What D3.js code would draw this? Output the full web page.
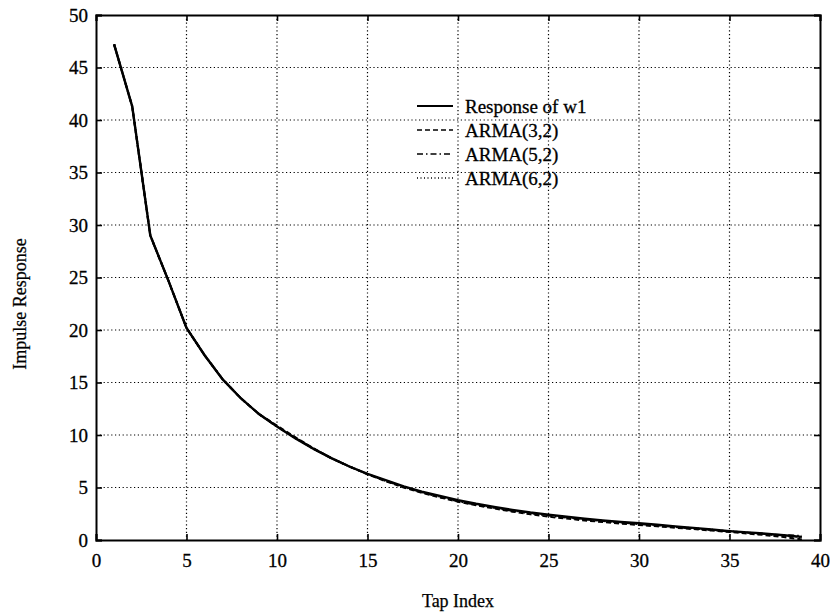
<!DOCTYPE html>
<html><head><meta charset="utf-8">
<script src="https://cdn.jsdelivr.net/npm/d3@7"></script>
<style>body{margin:0;background:#fff}svg{display:block}</style>
</head><body><svg id="c" width="830" height="616"></svg>
<script>
const taps = d3.range(1, 40);
const responseW1 = [47.2,41.3,29.0,24.7,20.2,17.6,15.3,13.5,12.0,10.8,9.7,8.7,7.8,7.0,6.3,5.7,5.1,4.6,4.2,3.8,3.45,3.15,2.87,2.62,2.42,2.22,2.03,1.87,1.72,1.6,1.45,1.3,1.15,1.0,0.85,0.73,0.6,0.45,0.3];
const arma32 = [47.2,41.3,29.0,24.7,20.2,17.6,15.3,13.5,12.0,10.9,9.8,8.75,7.8,7.0,6.25,5.6,5.0,4.5,4.05,3.65,3.3,3.0,2.7,2.45,2.22,2.04,1.86,1.71,1.56,1.42,1.3,1.17,1.04,0.9,0.76,0.62,0.46,0.28,0.05];
const arma52 = [47.2,41.3,29.0,24.7,20.2,17.6,15.3,13.5,12.0,10.8,9.75,8.7,7.8,7.0,6.28,5.65,5.05,4.55,4.1,3.7,3.36,3.06,2.78,2.54,2.33,2.14,1.96,1.8,1.65,1.52,1.38,1.24,1.1,0.96,0.82,0.69,0.56,0.46,0.4];
const arma62 = [47.2,41.3,29.0,24.7,20.2,17.6,15.3,13.5,12.0,10.8,9.7,8.7,7.8,7.0,6.27,5.64,5.05,4.55,4.12,3.72,3.38,3.08,2.8,2.56,2.35,2.16,1.98,1.82,1.67,1.54,1.4,1.26,1.12,0.98,0.84,0.7,0.56,0.4,0.2];
const seriesNames = ["Response of w1","ARMA(3,2)","ARMA(5,2)","ARMA(6,2)"];
const seriesDash = [null,"5,3","6,3,1.5,3","1,2.5"];
const xTicks = [0,5,10,15,20,25,30,35,40];
const yTicks = [0,5,10,15,20,25,30,35,40,45,50];

const FONT = "'Liberation Serif','Times New Roman','DejaVu Serif',serif";
const svg = d3.select("#c");
const L=96,R=820,T=15,B=540;
const x = d3.scaleLinear().domain([0,40]).range([L,R]);
const y = d3.scaleLinear().domain([0,50]).range([B,T]);

// grid
const g = svg.append("g");
g.selectAll(".vg").data(xTicks.slice(1,-1)).join("line")
 .attr("x1",d=>x(d)).attr("x2",d=>x(d)).attr("y1",T).attr("y2",B)
 .attr("stroke","#000").attr("stroke-width",1.2).attr("stroke-dasharray","1.2,2.6");
g.selectAll(".hg").data(yTicks.slice(1,-1)).join("line")
 .attr("y1",d=>y(d)).attr("y2",d=>y(d)).attr("x1",L).attr("x2",R)
 .attr("stroke","#000").attr("stroke-width",1.2).attr("stroke-dasharray","1.2,2.6");

// axes (inward ticks on all sides)
const ax = svg.append("g").attr("transform",`translate(0,${B})`).call(d3.axisBottom(x).tickValues(xTicks).tickSize(-6).tickPadding(11));
const axT = svg.append("g").attr("transform",`translate(0,${T})`).call(d3.axisTop(x).tickValues(xTicks).tickSize(-6).tickFormat(""));
const ay = svg.append("g").attr("transform",`translate(${L},0)`).call(d3.axisLeft(y).tickValues(yTicks).tickSize(-6).tickPadding(12));
const ayR = svg.append("g").attr("transform",`translate(${R},0)`).call(d3.axisRight(y).tickValues(yTicks).tickSize(-6).tickFormat(""));
[ax,axT,ay,ayR].forEach(a=>{
  a.attr("font-family",FONT).attr("font-size",19);
  a.select(".domain").attr("stroke","#000").attr("stroke-width",2);
  a.selectAll(".tick line").attr("stroke","#000").attr("stroke-width",1.6);
  a.selectAll(".tick text").attr("fill","#000").attr("stroke","#000").attr("stroke-width",0.3);
});
ax.selectAll(".tick text").attr("dy","0.85em");
ay.selectAll(".tick text").attr("dx","4");

// lines
const allSeries = [responseW1, arma32, arma52, arma62];
const line = d3.line().x((d,i)=>x(taps[i])).y(d=>y(d));
allSeries.forEach((s,k)=>{
  svg.append("path").datum(s).attr("d",line).attr("fill","none")
   .attr("stroke","#000").attr("stroke-width",k===0?2.4:2)
   .attr("stroke-dasharray",seriesDash[k]);
});

// legend
const lg = svg.append("g").attr("font-family",FONT).attr("font-size",19);
seriesNames.forEach((n,k)=>{
  const yy = 106 + k*24;
  lg.append("line").attr("x1",417).attr("x2",453).attr("y1",yy).attr("y2",yy)
    .attr("stroke","#000").attr("stroke-width",k===0?1.8:1.4).attr("stroke-dasharray",seriesDash[k]);
  lg.append("text").attr("x",465).attr("y",yy).attr("dy","0.35em").attr("fill","#000").attr("stroke","#000").attr("stroke-width",0.3).text(n);
});

// axis titles
svg.append("text").attr("x",458).attr("y",607).attr("text-anchor","middle").attr("font-family",FONT).attr("font-size",18).attr("stroke","#000").attr("stroke-width",0.25).text("Tap Index");
svg.append("text").attr("transform","translate(26,304) rotate(-90)").attr("text-anchor","middle").attr("font-family",FONT).attr("font-size",18).attr("stroke","#000").attr("stroke-width",0.25).text("Impulse Response");
</script></body></html>
